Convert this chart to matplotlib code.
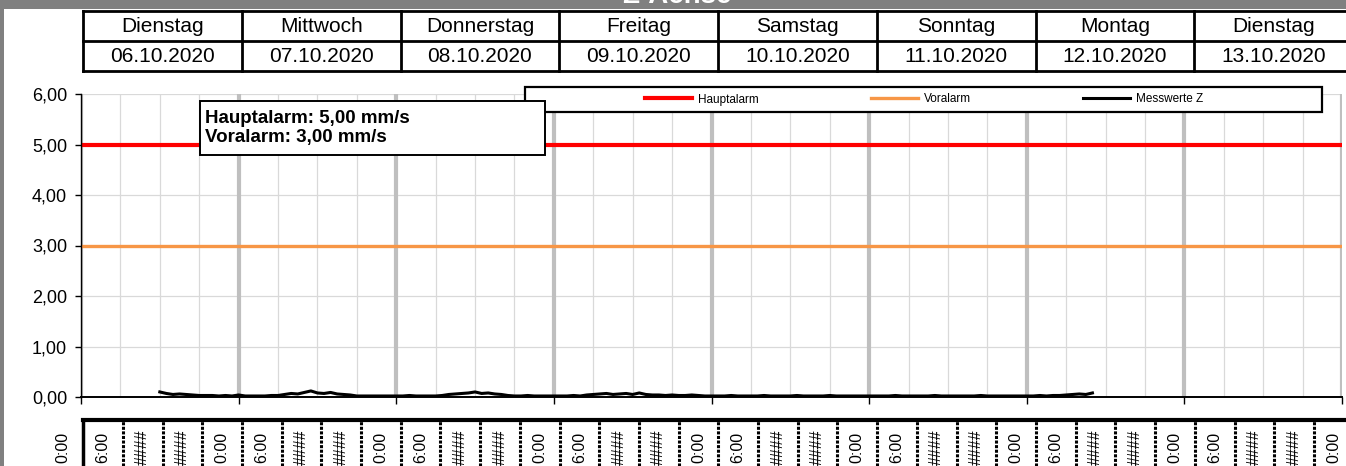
import matplotlib
matplotlib.use('Agg')
import matplotlib.pyplot as plt
import numpy as np
from matplotlib.patches import Rectangle

plt.rcParams['font.family'] = ['Liberation Sans', 'DejaVu Sans']

# ---------------- data ----------------
title = "Z-Achse"
day_names = ["Dienstag", "Mittwoch", "Donnerstag", "Freitag",
             "Samstag", "Sonntag", "Montag", "Dienstag"]
dates = ["06.10.2020", "07.10.2020", "08.10.2020", "09.10.2020",
         "10.10.2020", "11.10.2020", "12.10.2020", "13.10.2020"]
time_labels = ["0:00", "6:00", "####", "####"] * 8 + ["0:00"]
y_ticks = [0, 1, 2, 3, 4, 5, 6]
hauptalarm = 5.0
voralarm = 3.0
series_labels = ["Hauptalarm", "Voralarm", "Messwerte Z"]

# measurement values, hourly, starting 06.10.2020 12:00 (hours since 06.10 0:00)
mess_start_hour = 12
mess_values = [
    # 06.10 12:00 - 23:00
    0.10, 0.07, 0.05, 0.06, 0.05, 0.04, 0.03, 0.03, 0.03, 0.02, 0.03, 0.02,
    # 07.10
    0.04, 0.02, 0.02, 0.02, 0.02, 0.03, 0.03, 0.05, 0.07, 0.06, 0.09, 0.12,
    0.08, 0.07, 0.09, 0.06, 0.05, 0.04, 0.02, 0.02, 0.02, 0.02, 0.02, 0.02,
    # 08.10
    0.02, 0.02, 0.03, 0.02, 0.02, 0.02, 0.02, 0.03, 0.05, 0.06, 0.07, 0.08,
    0.10, 0.07, 0.08, 0.06, 0.05, 0.03, 0.02, 0.02, 0.03, 0.02, 0.02, 0.02,
    # 09.10
    0.02, 0.02, 0.02, 0.03, 0.02, 0.04, 0.05, 0.06, 0.07, 0.05, 0.06, 0.07,
    0.05, 0.08, 0.05, 0.04, 0.04, 0.03, 0.04, 0.03, 0.03, 0.04, 0.03, 0.02,
    # 10.10
    0.02, 0.02, 0.02, 0.03, 0.02, 0.02, 0.02, 0.02, 0.03, 0.02, 0.02, 0.02,
    0.02, 0.03, 0.02, 0.02, 0.02, 0.02, 0.03, 0.02, 0.02, 0.02, 0.02, 0.02,
    # 11.10
    0.02, 0.02, 0.02, 0.02, 0.03, 0.02, 0.02, 0.02, 0.02, 0.02, 0.03, 0.02,
    0.02, 0.02, 0.02, 0.02, 0.02, 0.03, 0.02, 0.02, 0.02, 0.02, 0.02, 0.02,
    # 12.10 0:00 - 10:00
    0.02, 0.02, 0.03, 0.02, 0.03, 0.03, 0.04, 0.05, 0.06, 0.05, 0.08,
]
n_days = len(dates)

# ---------------- figure ----------------
W, H = 1346, 466
fig = plt.figure(figsize=(W / 100, H / 100), dpi=100)
fig.patch.set_facecolor('white')


def fx(px):
    return px / W


def fy(py):
    return 1 - py / H


# gray frame + title
fig.patches.append(Rectangle((0, fy(9)), 1, 1 - fy(9), transform=fig.transFigure,
                             facecolor='#808080', edgecolor='none', zorder=10))
fig.patches.append(Rectangle((0, 0), fx(4), 1, transform=fig.transFigure,
                             facecolor='#808080', edgecolor='none', zorder=10))
fig.text(fx(677), fy(3), title, color='white', fontweight='bold', fontsize=20,
         ha='center', va='baseline', zorder=11)

# ---------------- main axes ----------------
ax = fig.add_axes([fx(81), fy(397), fx(1342) - fx(81), fy(94) - fy(397)])
ax.set_xlim(0, n_days)
ax.set_ylim(0, 6)

for i in range(n_days * 4 + 1):
    xv = i / 4
    if i % 4 == 0:
        ax.axvline(xv, color='#BFBFBF', lw=3, zorder=0.5)
    else:
        ax.axvline(xv, color='#D9D9D9', lw=0.9, zorder=0.4)
for yv in y_ticks[1:]:
    ax.axhline(yv, color='#D9D9D9', lw=0.9, zorder=0.4)

l1 = ax.axhline(hauptalarm, color='#FF0000', lw=3, zorder=2, label=series_labels[0])
l2 = ax.axhline(voralarm, color='#F79646', lw=2.4, zorder=2, label=series_labels[1])
mess_hours = mess_start_hour + np.arange(len(mess_values))
l3, = ax.plot(mess_hours / 24, mess_values, color='black', lw=2.2, zorder=3,
              label=series_labels[2])

ax.set_xticks(range(n_days + 1))
ax.set_xticklabels([])
ax.tick_params(axis='x', direction='out', length=5, width=1, color='black')
ax.set_yticks(y_ticks)
ax.set_yticklabels([f"{v:.2f}".replace('.', ',') for v in y_ticks], fontsize=13)
ax.tick_params(axis='y', direction='out', length=4, width=1, pad=6)
for s in ['top', 'right']:
    ax.spines[s].set_visible(False)
ax.spines['left'].set_linewidth(1)
ax.spines['bottom'].set_linewidth(1.4)

# legend box
fig.patches.append(Rectangle((fx(525), fy(112)), fx(1322) - fx(525), fy(87) - fy(112),
                             transform=fig.transFigure, facecolor='white',
                             edgecolor='black', lw=1.6, zorder=4))
leg = fig.legend([l1, l2, l3], series_labels, loc='center',
                 bbox_to_anchor=(fx(924), fy(99.5)), ncol=3, frameon=False,
                 fontsize=8.5, handlelength=4.0, handletextpad=0.5, columnspacing=9.5)
leg.set_zorder(5)

# annotation box
fig.patches.append(Rectangle((fx(200), fy(155)), fx(545) - fx(200), fy(101) - fy(155),
                             transform=fig.transFigure, facecolor='white',
                             edgecolor='black', lw=1.4, zorder=6))
ann = (f"Hauptalarm: {hauptalarm:.2f} mm/s\nVoralarm: {voralarm:.2f} mm/s").replace('.', ',')
fig.text(fx(205), fy(128), ann, fontweight='bold', fontsize=13.5, ha='left',
         va='center', linespacing=1.2, zorder=7)

# ---------------- header table ----------------
col_w = 158.75
hx = fig.add_axes([fx(83), fy(71), n_days * col_w / W, fy(11) - fy(71)])
hx.set_xlim(0, n_days)
hx.set_ylim(0, 2)
hx.axis('off')
for yv in [0, 1, 2]:
    hx.plot([0, n_days], [yv, yv], color='black', lw=2, clip_on=False,
            solid_capstyle='projecting')
for xv in range(n_days + 1):
    hx.plot([xv, xv], [0, 2], color='black', lw=2, clip_on=False,
            solid_capstyle='projecting')
for i in range(n_days):
    hx.text(i + 0.5, 1.5, day_names[i], ha='center', va='center', fontsize=15)
    hx.text(i + 0.5, 0.47, dates[i], ha='center', va='center', fontsize=15)

# ---------------- bottom time table ----------------
# x in hours; pixel = 63.3 + 6.617*h
h0 = -63.3 / 6.617
h1 = (W - 63.3) / 6.617
bx = fig.add_axes([0, 0, 1, fy(420)])
bx.set_xlim(h0, h1)
bx.set_ylim(0, 1)
bx.axis('off')
bx.plot([3, h1 + 5], [1, 1], color='black', lw=3, clip_on=False)
bx.plot([3, 3], [0, 1], color='black', lw=2.5, clip_on=False)
seps = [3 + 6 * k for k in range(1, len(time_labels))]
bx.vlines(seps, 0, 1, colors='black', lw=2.2, linestyles=(0, (1.0, 0.5)))
ytxt = (H - 447) / (H - 420)
for k, lab in enumerate(time_labels):
    bx.text(6 * k, ytxt, lab, rotation=90, ha='center', va='center', fontsize=11.5,
            clip_on=False)

fig.savefig('out.png', dpi=100)
